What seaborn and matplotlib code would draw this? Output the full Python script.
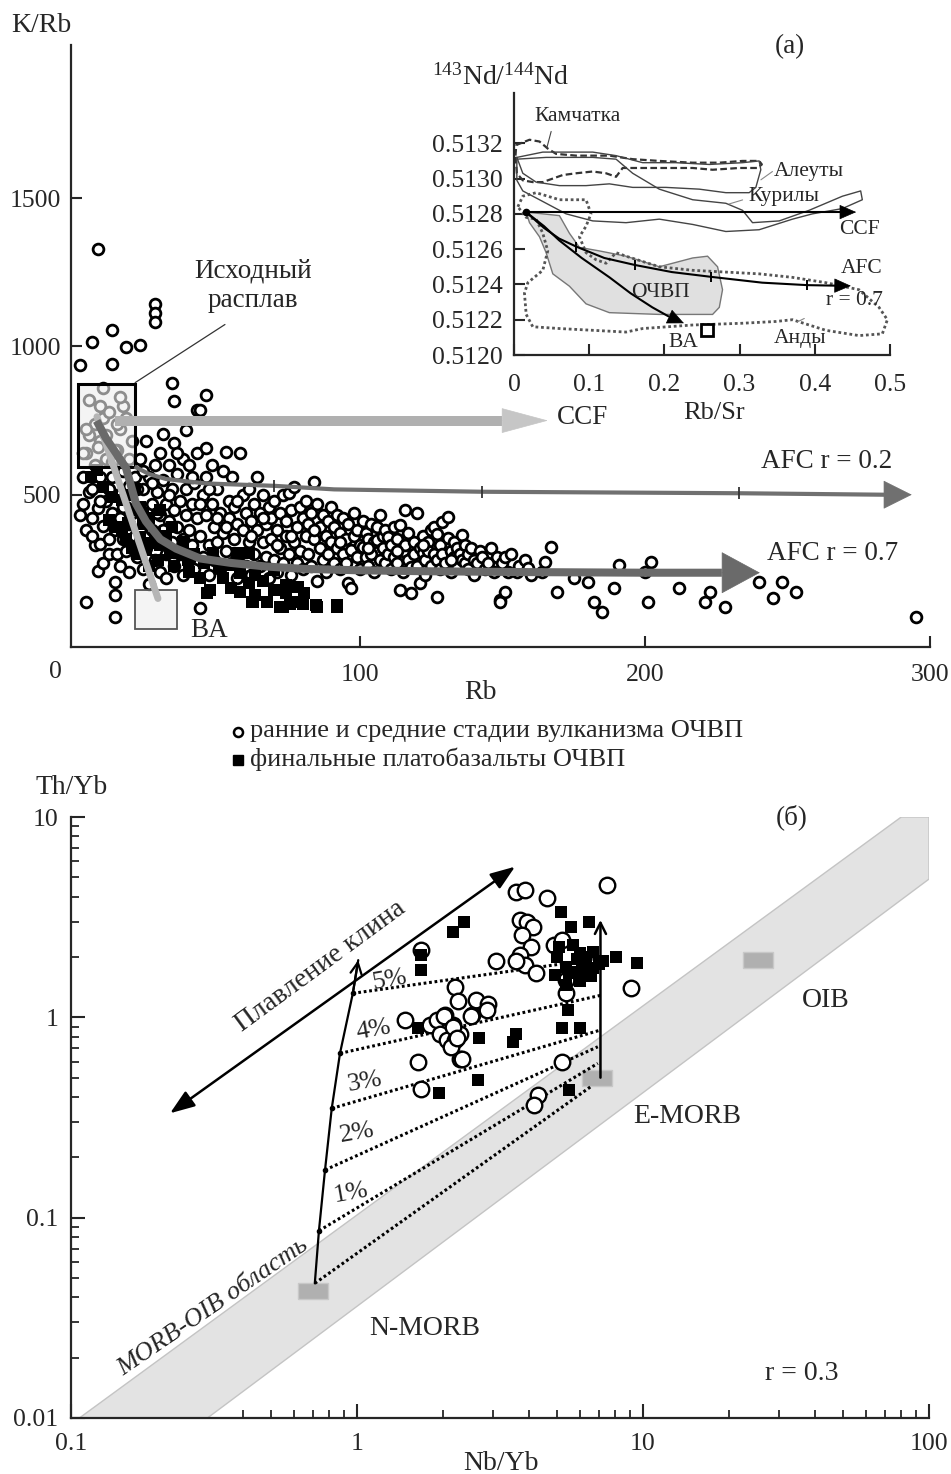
import numpy as np
import pandas as pd
import matplotlib
matplotlib.use("Agg")
import matplotlib.pyplot as plt
import seaborn as sns
from matplotlib.patches import Rectangle
from matplotlib.ticker import NullFormatter, LogLocator

sns.set_style("ticks")
plt.rcParams["font.family"] = ["Liberation Serif", "DejaVu Serif"]
plt.rcParams["mathtext.fontset"] = "custom"
plt.rcParams["mathtext.rm"] = "Liberation Serif"
plt.rcParams["mathtext.it"] = "Liberation Serif:italic"

W, H = 951, 1474

# ---------------- (a) K/Rb vs Rb ----------------
early_pts = [
    (2, 432), (2, 938), (3, 560), (3, 470), (4, 380), (4, 138), (4, 640), (5, 508), (5, 700), (6, 520),
    (6, 1014), (6, 420), (7, 330), (7, 600), (8, 1330), (8, 244), (8, 455), (9, 334), (9, 560), (9, 680),
    (10, 395), (10, 270), (10, 760), (11, 480), (11, 620), (12, 350), (12, 300), (13, 1054), (13, 942),
    (13, 560), (13, 440), (14, 206), (14, 161), (14, 88), (14, 380), (15, 500), (15, 650), (15, 300),
    (16, 420), (16, 720), (16, 260), (17, 350), (17, 580), (17, 800), (18, 460), (18, 999), (18, 310),
    (19, 400), (19, 530), (19, 240), (20, 680), (20, 330), (20, 440),
    (3, 640), (5, 820), (7, 740), (9, 800), (11, 700), (12, 780), (14, 650), (16, 830), (18, 760),
    (19, 620), (4, 720), (10, 860), (15, 740), (8, 660), (13, 610),
    (21, 560), (21, 360), (22, 450), (22, 290), (23, 1006), (23, 620), (23, 380), (24, 520), (24, 250),
    (25, 680), (25, 420), (25, 320), (26, 560), (26, 200), (27, 470), (27, 380), (28, 1142), (28, 1112),
    (28, 1081), (28, 600), (28, 280), (29, 510), (29, 340), (30, 430), (30, 240), (30, 640),
    (31, 704), (31, 550), (31, 380), (32, 470), (32, 300), (32, 220), (33, 600), (33, 410), (34, 878),
    (34, 520), (34, 340), (35, 817), (35, 674), (35, 260), (35, 450), (36, 570), (36, 390), (37, 300),
    (37, 480), (38, 620), (38, 350), (38, 230), (39, 430), (39, 719), (39, 520), (40, 280), (40, 380),
    (40, 600), (41, 470), (41, 330), (42, 540), (42, 250), (43, 787), (43, 420), (43, 640), (44, 787),
    (44, 360), (44, 118), (45, 500), (45, 290), (46, 837), (46, 659), (46, 430), (46, 560), (47, 330),
    (47, 230), (48, 470), (48, 600), (49, 390), (49, 280), (50, 520), (50, 340),
    (51, 440), (51, 250), (52, 580), (52, 370), (53, 644), (53, 310), (54, 480), (54, 420), (55, 270),
    (55, 560), (56, 350), (56, 460), (57, 220), (57, 400), (58, 641), (58, 300), (59, 500), (59, 380),
    (60, 260), (60, 440), (61, 340), (61, 520), (62, 410), (62, 230), (63, 470), (63, 300), (64, 561),
    (64, 380), (65, 260), (65, 440), (66, 340), (66, 500), (67, 400), (67, 290), (68, 460), (68, 220),
    (69, 350), (69, 420), (70, 280), (70, 480), (71, 380), (71, 240), (72, 440), (72, 320), (73, 500),
    (73, 270), (74, 360), (74, 410), (75, 505), (75, 300), (76, 230), (76, 450), (77, 527), (77, 340),
    (78, 390), (78, 270), (79, 460), (79, 310), (80, 250), (80, 420), (81, 360), (81, 480), (82, 300),
    (82, 400), (83, 440), (83, 260), (84, 544), (84, 350), (85, 210), (85, 470), (86, 320), (86, 390),
    (87, 280), (87, 430), (88, 360), (88, 240), (89, 410), (89, 300), (90, 340), (90, 460),
    (91, 270), (91, 390), (92, 430), (92, 320), (93, 250), (93, 370), (94, 300), (94, 420), (95, 350),
    (95, 270), (96, 201), (96, 400), (97, 184), (97, 314), (98, 360), (98, 440), (99, 290), (99, 380),
    (100, 330), (100, 250), (101, 325), (101, 410), (102, 290), (102, 370), (103, 260), (103, 350),
    (104, 400), (104, 300), (105, 340), (105, 240), (106, 347), (106, 390), (107, 280), (107, 430),
    (108, 320), (108, 360), (109, 270), (109, 380), (110, 358), (110, 300), (111, 330), (111, 250),
    (112, 390), (112, 290), (113, 350), (113, 270), (114, 398), (114, 179), (115, 310), (115, 240),
    (116, 448), (116, 330), (117, 280), (117, 370), (118, 257), (118, 168), (119, 300), (119, 340),
    (120, 437), (120, 260), (121, 201), (121, 320), (122, 302), (122, 360), (123, 229), (123, 280),
    (124, 340), (124, 310), (125, 260), (125, 380), (126, 392), (126, 300), (127, 367), (127, 280),
    (127, 156), (128, 330), (128, 250), (129, 409), (129, 300), (130, 270), (131, 426), (131, 353),
    (132, 310), (132, 240), (133, 290), (133, 340), (134, 260), (134, 320), (135, 300), (136, 364),
    (136, 280), (137, 270), (137, 330), (138, 250), (138, 300), (139, 320), (140, 280), (140, 230),
    (141, 270), (142, 310), (143, 290), (144, 250), (145, 270), (146, 320), (147, 240), (148, 290),
    (149, 145), (149, 139), (150, 270), (151, 291), (151, 173), (152, 240), (153, 300), (155, 240),
    (156, 260), (158, 280), (159, 252), (160, 230), (164, 240), (165, 274), (167, 325), (169, 173),
    (175, 218), (180, 207), (182, 139), (185, 106), (189, 184), (191, 263), (200, 240), (201, 139),
    (202, 274), (212, 184), (221, 139), (223, 173), (228, 122), (240, 207), (245, 151), (248, 207),
    (253, 173), (295, 89),
    (6, 360), (9, 480), (12, 520), (17, 460), (22, 520), (24, 580), (27, 540), (29, 440), (33, 500),
    (36, 640), (41, 560), (44, 470), (47, 520), (50, 420), (53, 390), (57, 480), (62, 360), (66, 420),
    (71, 330), (76, 360), (84, 380), (93, 340), (103, 320), (113, 310), (122, 330), (132, 280),
]
final_pts = [
    (5.8, 561), (7.9, 583), (10, 527), (13.2, 493), (16.5, 482), (20.8, 448), (22.9, 460), (12.2, 415),
    (14.4, 392), (16.5, 381), (18.6, 404), (22.9, 358), (27.1, 336), (25, 314), (33.5, 302), (29.2, 280),
    (37.8, 302), (39.9, 280), (48.4, 302), (56.9, 302), (61.2, 302), (45.2, 269), (50.6, 257), (55, 263),
    (69.8, 246), (63.3, 229), (58, 235), (61.2, 201), (74, 196), (78.2, 190), (74, 168), (80.4, 168),
    (54.8, 184), (47.3, 179), (58, 173), (63.3, 162), (62.3, 139), (67.6, 139), (72.9, 122), (78.2, 139),
    (84.7, 128), (92.1, 128), (46.3, 168), (62.7, 138), (67.4, 138), (72, 123), (75.5, 130), (80.2, 130),
    (84.9, 123), (91.9, 123), (18, 350), (20, 320), (24, 400), (26, 420), (28, 370), (30, 330), (32, 360),
    (34, 390), (36, 310), (38, 340), (40, 240), (42, 300), (35, 260), (26, 260), (22, 300), (44, 220),
    (52, 220), (66, 210), (70, 180), (24, 440), (30, 450), (19, 500), (21, 520),
]
source_box = [1.3, 21.2, 593, 873]      # Rb min, Rb max, K/Rb min, K/Rb max
ba_box = [21.2, 35.8, 47, 179]

ccf_rb, ccf_kr, ccf_tip = [14.3, 150], [750, 750], 166
afc02_rb = [21, 26, 32, 46, 70, 91, 143, 233, 284]
afc02_kr = [595, 570, 553, 538, 530, 518, 510, 505, 500]
afc02_tip = 293.6
afc02_tick_rb = [70, 143, 233]
afc02_tick_kr = [530, 510, 505]
afc07_rb = [7.7, 11, 14.5, 18, 21.5, 25, 30, 35.6, 44, 54.8, 67, 80.4, 100, 123, 160, 200, 227]
afc07_kr = [749, 690, 640, 590, 470, 410, 350, 318, 285, 270, 258, 250, 245, 242, 239, 237, 237]
afc07_tip = 240.3
ba_rb, ba_kr = [7.8, 29.2], [763, 150]

# inset: 143Nd/144Nd vs Rb/Sr
kam_x = [0.002, 0.003, 0.0206, 0.0339, 0.0449, 0.056, 0.0826, 0.1268, 0.1578, 0.1932, 0.2376, 0.273,
         0.3039, 0.326, 0.3296, 0.3238, 0.2994, 0.2641, 0.2376, 0.1932, 0.1578, 0.1445, 0.1357, 0.1224,
         0.1047, 0.0826, 0.0648, 0.0516, 0.0383, 0.025, 0.0117, 0.0038, 0.002]
kam_y = [0.51313, 0.51319, 0.51322, 0.51321, 0.51317, 0.51314, 0.51313, 0.51313, 0.51311, 0.51310,
         0.51309, 0.51309, 0.51310, 0.51310, 0.51308, 0.51306, 0.51306, 0.51305, 0.51306, 0.51306,
         0.51306, 0.51306, 0.51301, 0.51303, 0.51304, 0.51303, 0.51302, 0.51300, 0.51298, 0.51298,
         0.51299, 0.51303, 0.51313]
ale_x = [0.0038, 0.0383, 0.1047, 0.1357, 0.1711, 0.2154, 0.2597, 0.3039, 0.326, 0.3282, 0.3216, 0.3127,
         0.2817, 0.2464, 0.2021, 0.1578, 0.1268, 0.0958, 0.0604, 0.0294, 0.0117, 0.0038]
ale_y = [0.51312, 0.51315, 0.51315, 0.51313, 0.51309, 0.51309, 0.51308, 0.51309, 0.51310, 0.51305,
         0.51295, 0.51292, 0.51292, 0.51294, 0.51295, 0.51295, 0.51297, 0.51296, 0.51296, 0.51298,
         0.51303, 0.51312]
kur_x = [0.0038, 0.0427, 0.1047, 0.1357, 0.1578, 0.1932, 0.2376, 0.2817, 0.3039, 0.3172, 0.3526, 0.3924,
         0.4367, 0.461, 0.4632, 0.4367, 0.3969, 0.3703, 0.326, 0.2817, 0.2376, 0.1932, 0.149, 0.1047,
         0.0693, 0.0339, 0.0117, 0.0038, 0.0038]
kur_y = [0.51311, 0.51312, 0.51312, 0.51311, 0.51303, 0.51294, 0.51288, 0.51286, 0.51282, 0.51275,
         0.51276, 0.51282, 0.51290, 0.51293, 0.51288, 0.51283, 0.51280, 0.51277, 0.51271, 0.51270,
         0.51274, 0.51277, 0.51275, 0.51276, 0.51280, 0.51288, 0.51293, 0.51299, 0.51311]
and_x = [0.0051, 0.0117, 0.0294, 0.0604, 0.0958, 0.1024, 0.0958, 0.087, 0.0958, 0.1091, 0.1224, 0.1357,
         0.149, 0.1932, 0.2376, 0.2817, 0.326, 0.3703, 0.4146, 0.4588, 0.4854, 0.4965, 0.4898, 0.4588,
         0.4146, 0.3703, 0.3482, 0.3039, 0.2376, 0.1711, 0.149, 0.1047, 0.0604, 0.025, 0.0162, 0.0139,
         0.0184, 0.0383, 0.0449, 0.0383, 0.0294, 0.0162, 0.0051]
and_y = [0.51284, 0.51290, 0.51292, 0.51288, 0.51288, 0.51280, 0.51273, 0.51267, 0.51258, 0.51254,
         0.51252, 0.51258, 0.51256, 0.51250, 0.51248, 0.51247, 0.51246, 0.51244, 0.51241, 0.51237,
         0.51227, 0.51220, 0.51212, 0.51211, 0.51214, 0.51220, 0.51219, 0.51218, 0.51217, 0.51215,
         0.51213, 0.51214, 0.51215, 0.51216, 0.51223, 0.51235, 0.51241, 0.51248, 0.51259, 0.51269,
         0.51277, 0.51278, 0.51284]
ochvp_x = [0.0162, 0.0604, 0.0737, 0.087, 0.1135, 0.149, 0.1932, 0.2376, 0.2574, 0.2707, 0.2773, 0.273,
           0.2641, 0.1932, 0.1268, 0.0958, 0.0737, 0.0516, 0.0427, 0.0339, 0.0206]
ochvp_y = [0.51281, 0.51279, 0.51269, 0.51261, 0.51259, 0.51256, 0.51250, 0.51255, 0.51256, 0.51250,
           0.51237, 0.51227, 0.51223, 0.51223, 0.51224, 0.51229, 0.51239, 0.51246, 0.51258, 0.51267,
           0.51275]
in_ccf_x, in_ccf_y = [0.016, 0.435], [0.51281, 0.51281]
in_ccf_tip = 0.455
in_afc_x = [0.016, 0.04, 0.06, 0.083, 0.12, 0.161, 0.21, 0.262, 0.33, 0.39, 0.428]
in_afc_y = [0.51281, 0.51272, 0.51266, 0.512614, 0.51255, 0.51251, 0.51247, 0.512443, 0.51241, 0.512396, 0.512393]
in_afc_tip = (0.448, 0.512392)
in_afc_tick_x = [0.083, 0.161, 0.262, 0.39]
in_afc_tick_y = [0.512614, 0.51251, 0.512443, 0.512396]
in_ba_x = [0.016, 0.04, 0.06, 0.09, 0.127, 0.155, 0.184, 0.205]
in_ba_y = [0.51281, 0.51273, 0.51265, 0.51255, 0.51244, 0.51235, 0.51227, 0.51222]
in_ba_tip = (0.226, 0.51218)
in_ba_sample = (0.257, 0.51214)

# ---------------- (б) Th/Yb vs Nb/Yb ----------------
band_nb = [0.107, 80, 100, 100, 0.3]
band_th = [0.01, 10, 10, 4.9, 0.01]
res_names = ["N-MORB", "E-MORB", "OIB"]
res_nb = [0.70, 6.9, 25.3]
res_th = [0.043, 0.50, 1.93]
melt_nb = [0.712, 0.736, 0.773, 0.816, 0.872, 0.967, 1.01]
melt_th = [0.047, 0.086, 0.173, 0.351, 0.661, 1.318, 1.93]
mix_start_nb = [0.712, 0.736, 0.773, 0.816, 0.872, 0.967]
mix_start_th = [0.047, 0.086, 0.173, 0.351, 0.661, 1.318]
mix_end_nb = [6.57, 6.95, 6.95, 7.1, 7.15, 7.15]
mix_end_th = [0.451, 0.589, 0.713, 0.864, 1.29, 1.97]
pct_labels = ["1%", "2%", "3%", "4%", "5%"]
pct_nb = [0.953, 1.0, 1.067, 1.14, 1.30]
pct_th = [0.133, 0.264, 0.477, 0.864, 1.53]
emorb_arrow_nb, emorb_arrow_th = 7.1, [0.5, 3.06]
wedge_nb, wedge_th = [0.222, 3.57], [0.332, 5.65]

b_early = [
    (1.68, 2.17), (1.47, 0.97), (1.80, 0.915), (1.90, 0.97), (2.03, 1.03), (2.17, 0.915), (1.95, 0.83),
    (2.06, 0.77), (2.20, 0.77), (2.29, 0.83), (2.52, 1.03), (2.29, 0.62), (2.14, 0.71), (1.64, 0.60),
    (1.68, 0.44), (2.20, 1.42), (2.26, 1.20), (2.61, 1.22), (2.88, 1.17), (2.50, 1.01), (2.02, 1.01),
    (2.17, 0.90), (2.23, 0.79), (2.33, 0.62), (2.84, 1.09), (7.46, 4.58), (3.61, 4.24), (3.88, 4.32),
    (4.60, 3.93), (3.72, 3.06), (3.94, 3.0), (4.11, 2.83), (3.77, 2.58), (4.05, 2.25), (3.72, 2.05),
    (3.88, 1.82), (4.23, 1.66), (3.61, 1.90), (3.05, 1.90), (4.87, 2.30), (5.23, 2.43), (9.1, 1.40),
    (5.38, 1.32), (5.38, 1.54), (5.23, 0.60), (4.29, 0.41), (4.17, 0.365),
]
b_final = [
    (5.08, 2.25), (5.70, 2.30), (6.03, 2.09), (6.66, 2.13), (7.26, 1.90), (8.02, 2.01), (9.51, 1.86),
    (5.38, 1.79), (6.12, 1.82), (6.66, 1.76), (4.94, 1.63), (5.53, 1.66), (5.86, 1.69), (5.38, 1.45),
    (6.03, 1.51), (6.57, 1.60), (5.46, 1.09), (5.23, 0.88), (6.03, 0.88), (2.68, 0.79), (3.61, 0.83),
    (3.52, 0.755), (2.64, 0.486), (1.93, 0.417), (5.53, 0.434), (5.16, 3.37), (6.47, 3.0), (5.62, 2.83),
    (2.36, 3.0), (2.17, 2.68), (1.68, 2.05), (1.68, 1.72), (1.63, 0.88), (6.3, 2.0), (5.9, 1.95),
    (7.0, 1.85), (6.2, 1.7), (5.0, 2.0),
]

# ---------------- figure ----------------
fig = plt.figure(figsize=(W / 100, H / 100), dpi=100)


def box(l, t, r, b):
    return [l / W, 1 - b / H, (r - l) / W, (b - t) / H]


def head(a, tail, tip, length, width, color, style="-|>", lw=0.5, z=6):
    a.annotate("", xy=tip, xytext=tail,
               arrowprops=dict(arrowstyle=f"{style},head_length={length},head_width={width}",
                               mutation_scale=1, color=color, lw=lw, shrinkA=0, shrinkB=0),
               zorder=z)


ax = fig.add_axes(box(71, 45, 930, 647))
axb = fig.add_axes(box(71, 817, 929, 1418))
ins = fig.add_axes(box(514, 93, 890, 355))
ov = fig.add_axes([0, 0, 1, 1])
ov.set_xlim(0, W)
ov.set_ylim(H, 0)
ov.axis("off")

for a in (ax, axb, ins):
    a.set_facecolor("none")
    a.spines[["top", "right"]].set_visible(False)
    a.spines[["left", "bottom"]].set_linewidth(1.6)

# ---- panel (a)
df_e = pd.DataFrame(early_pts, columns=["Rb", "KRb"])
df_f = pd.DataFrame(final_pts, columns=["Rb", "KRb"])
sns.scatterplot(data=df_e, x="Rb", y="KRb", marker="o", s=60, facecolor="white",
                edgecolor="black", linewidth=2.0, ax=ax, zorder=2)
sns.scatterplot(data=df_f, x="Rb", y="KRb", marker="s", s=64, color="black",
                linewidth=0, ax=ax, zorder=2.5)
ax.set_xlim(-1.3, 300)
ax.set_ylim(-13.5, 2016.5)
ax.add_patch(Rectangle((source_box[0], source_box[2]), source_box[1] - source_box[0],
                       source_box[3] - source_box[2], facecolor=(0.93, 0.93, 0.93, 0.6),
                       edgecolor="black", lw=2.2, zorder=3))
ax.add_patch(Rectangle((ba_box[0], ba_box[2]), ba_box[1] - ba_box[0], ba_box[3] - ba_box[2],
                       facecolor=(0.93, 0.93, 0.93, 0.6), edgecolor="#555555", lw=1.3, zorder=3))

ax.plot(ccf_rb, ccf_kr, color="#b0b0b0", lw=7.2, solid_capstyle="butt", zorder=4)
head(ax, (ccf_rb[-1], ccf_kr[-1]), (ccf_tip, ccf_kr[-1]), 32, 8.6, "#c6c6c6", z=4)
ax.plot(afc02_rb, afc02_kr, color="#707070", lw=3, solid_capstyle="butt", zorder=4)
head(ax, (afc02_rb[-1], afc02_kr[-1]), (afc02_tip, afc02_kr[-1]), 19.4, 9.7, "#707070", z=4)
ax.plot(afc02_tick_rb, afc02_tick_kr, ls="none", marker="|", ms=8, mew=1.3, color="#333333", zorder=4)
ax.plot(ba_rb, ba_kr, color="#b5b5b5", lw=5, solid_capstyle="round", zorder=4)
ax.plot(afc07_rb, afc07_kr, color="#6a6a6a", lw=5.8, solid_capstyle="butt", zorder=4.5)
head(ax, (afc07_rb[-1], afc07_kr[-1]), (afc07_tip, afc07_kr[-1]), 26.6, 14.4, "#6a6a6a", z=4.5)
ax.plot([21.2, 52.7], [878, 1074], color="#333333", lw=0.9, zorder=3)

ax.text(62.6, 1255, "Исходный", ha="center", va="center", fontsize=19.5)
ax.text(62.6, 1154, "расплав", ha="center", va="center", fontsize=19.5)
ax.text(40.5, 42, "BA", ha="left", va="center", fontsize=19.5)
ax.text(169, 759, "CCF", ha="left", va="center", fontsize=19.5)
ax.text(263.7, 611, "AFC r = 0.2", ha="center", va="center", fontsize=19.5)
ax.text(265.7, 302, "AFC r = 0.7", ha="center", va="center", fontsize=19.5)

ax.set_xticks([100, 200, 300])
ax.set_yticks([500, 1000, 1500])
ax.tick_params(direction="in", length=8, width=1.5, labelsize=18.5)
ax.tick_params(axis="x", pad=12)
ax.tick_params(axis="y", pad=7)
ax.set_xlabel("")
ax.set_ylabel("")

# ---- inset
ins.set_xlim(0, 0.5)
ins.set_ylim(0.5120, 0.513485)
ins.fill(ochvp_x, ochvp_y, facecolor="#e0e0e0", edgecolor="#777777", lw=1, zorder=1)
ins.plot(kam_x, kam_y, color="#333333", lw=1.6, ls=(0, (3, 1.5)), zorder=2)
ins.plot(ale_x, ale_y, color="#444444", lw=1.0, zorder=2)
ins.plot(kur_x, kur_y, color="#444444", lw=1.0, zorder=2)
ins.plot(and_x, and_y, color="#555555", lw=2.0, ls=(0, (1, 1)), zorder=2)
ins.plot(in_ccf_x, in_ccf_y, color="black", lw=1.5, zorder=3)
head(ins, (in_ccf_x[-1], in_ccf_y[-1]), (in_ccf_tip, in_ccf_y[-1]), 11, 4.8, "black")
ins.plot(in_afc_x, in_afc_y, color="black", lw=1.5, zorder=3)
head(ins, (in_afc_x[-1], in_afc_y[-1]), in_afc_tip, 11, 4.8, "black")
ins.plot(in_afc_tick_x, in_afc_tick_y, ls="none", marker="|", ms=7, mew=1.4, color="black", zorder=3)
ins.plot(in_ba_x, in_ba_y, color="black", lw=1.5, zorder=3)
head(ins, (in_ba_x[-1], in_ba_y[-1]), in_ba_tip, 11, 5, "black")
ins.plot(in_ccf_x[0], in_ccf_y[0], "o", ms=4.5, color="black", zorder=3)
ins.plot(*in_ba_sample, marker="s", ms=8, mfc="white", mec="black", mew=2, zorder=3)
ins.plot([0.0494, 0.0436], [0.513267, 0.513173], color="#444444", lw=0.8)
ins.plot([0.3437, 0.3283], [0.51304, 0.512993], color="#888888", lw=0.8)
ins.plot([0.304, 0.286], [0.512879, 0.512856], color="#888888", lw=0.8)
ins.plot([0.377, 0.386], [0.512188, 0.512207], color="#888888", lw=0.8)
for txt, x, y in [("Камчатка", 0.0843, 0.513351), ("Алеуты", 0.346, 0.513038), ("Курилы", 0.3114, 0.512896),
                  ("CCF", 0.432, 0.512709), ("AFC", 0.4345, 0.512493), ("r = 0.7", 0.4143, 0.512311),
                  ("ОЧВП", 0.156, 0.512356), ("BA", 0.205, 0.512072), ("Анды", 0.346, 0.512095)]:
    ins.text(x, y, txt, ha="center" if txt == "Камчатка" else "left", va="center", fontsize=15.5, zorder=4)
ins.set_xticks([0, 0.1, 0.2, 0.3, 0.4, 0.5], labels=["0", "0.1", "0.2", "0.3", "0.4", "0.5"])
yt = [0.5120, 0.5122, 0.5124, 0.5126, 0.5128, 0.5130, 0.5132]
ins.set_yticks(yt, labels=[f"{v:.4f}" for v in yt])
ins.tick_params(direction="in", length=8, width=1.5, labelsize=18.5)
ins.tick_params(axis="x", pad=14)
ins.tick_params(axis="y", pad=8)

# ---- panel (б)
axb.set_xscale("log")
axb.set_yscale("log")
axb.fill(band_nb, band_th, facecolor="#e3e3e3", edgecolor="#c4c4c4", lw=1, zorder=1)
for i in range(len(mix_start_nb)):
    axb.plot([mix_start_nb[i], mix_end_nb[i]], [mix_start_th[i], mix_end_th[i]],
             color="black", lw=2.2, ls=(0, (0.9, 0.9)), zorder=3)
axb.plot(melt_nb, melt_th, color="black", lw=1.6, zorder=3)
axb.plot(mix_start_nb[1:], mix_start_th[1:], ls="none", marker="o", ms=3, color="black", zorder=3)
head(axb, (melt_nb[-2], melt_th[-2]), (melt_nb[-1], melt_th[-1]), 8, 4, "black", style="->", lw=1.6)
axb.annotate("", xy=(emorb_arrow_nb, emorb_arrow_th[1]), xytext=(emorb_arrow_nb, emorb_arrow_th[0]),
             arrowprops=dict(arrowstyle="->,head_length=8,head_width=4", mutation_scale=1,
                             color="black", lw=1.8, shrinkA=0, shrinkB=0), zorder=4)
axb.annotate("", xy=(wedge_nb[1], wedge_th[1]), xytext=(wedge_nb[0], wedge_th[0]),
             arrowprops=dict(arrowstyle="<|-|>,head_length=15,head_width=5.5", mutation_scale=1,
                             color="black", lw=1.8, shrinkA=0, shrinkB=0), zorder=4)
sns.scatterplot(x=res_nb, y=res_th, marker=[(-1, -0.55), (1, -0.55), (1, 0.55), (-1, 0.55), (-1, -0.55)],
                s=467, color="#b0b0b0", edgecolor="#c8c8c8", linewidth=1, ax=axb, zorder=2)
df_be = pd.DataFrame(b_early, columns=["NbYb", "ThYb"])
df_bf = pd.DataFrame(b_final, columns=["NbYb", "ThYb"])
sns.scatterplot(data=df_be, x="NbYb", y="ThYb", marker="o", s=125, facecolor="white",
                edgecolor="black", linewidth=1.7, ax=axb, zorder=5)
sns.scatterplot(data=df_bf, x="NbYb", y="ThYb", marker="s", s=72, color="black",
                linewidth=0, ax=axb, zorder=6)
axb.set_xlim(0.1, 100)
axb.set_ylim(0.01, 10)
for lab, x, y in zip(pct_labels, pct_nb, pct_th):
    axb.text(x, y, lab, ha="center", va="center", fontsize=19, rotation=10, zorder=4)
axb.text(0.743, 1.79, "Плавление клина", ha="center", va="center", rotation=36.3,
         rotation_mode="anchor", fontsize=20)
axb.text(0.313, 0.0359, "MORB-OIB область", ha="center", va="center", rotation=34.5,
         rotation_mode="anchor", fontsize=19, style="italic")
axb.text(1.73, 0.028, "N-MORB", ha="center", va="center", fontsize=20)
axb.text(14.3, 0.319, "E-MORB", ha="center", va="center", fontsize=20)
axb.text(43.5, 1.22, "OIB", ha="center", va="center", fontsize=20)
axb.text(36, 0.0167, "r = 0.3", ha="center", va="center", fontsize=20)
axb.set_xticks([0.1, 1, 10, 100], labels=["0.1", "1", "10", "100"])
axb.set_yticks([0.01, 0.1, 1, 10], labels=["0.01", "0.1", "1", "10"])
axb.xaxis.set_minor_locator(LogLocator(base=10, subs=np.arange(2, 10)))
axb.yaxis.set_minor_locator(LogLocator(base=10, subs=np.arange(2, 10)))
axb.xaxis.set_minor_formatter(NullFormatter())
axb.yaxis.set_minor_formatter(NullFormatter())
axb.tick_params(which="major", direction="in", length=10, width=1.5, labelsize=18.5)
axb.tick_params(which="minor", direction="in", length=6, width=1.3)
axb.tick_params(axis="x", which="major", pad=11)
axb.tick_params(axis="y", which="major", pad=9)
axb.set_xlabel("")
axb.set_ylabel("")

# ---- outer labels and legend
ov.text(41, 25, "K/Rb", ha="center", va="center", fontsize=20)
ov.text(790, 47, "(a)", ha="center", va="center", fontsize=19.5)
ov.text(501, 77, r"$^{143}$Nd/$^{144}$Nd", ha="center", va="center", fontsize=20)
ov.text(714, 413, "Rb/Sr", ha="center", va="center", fontsize=19)
ov.text(55, 672, "0", ha="center", va="center", fontsize=18.5)
ov.text(480, 692, "Rb", ha="center", va="center", fontsize=20)
ov.plot(238, 732, "o", ms=6.5, mfc="white", mec="black", mew=1.8)
ov.plot(238, 760, "s", ms=7.5, color="black")
ov.text(250, 731, "ранние и средние стадии вулканизма ОЧВП", ha="left", va="center", fontsize=19)
ov.text(250, 759, "финальные платобазальты ОЧВП", ha="left", va="center", fontsize=19)
ov.text(72, 787, "Th/Yb", ha="center", va="center", fontsize=20)
ov.text(792, 817, "(б)", ha="center", va="center", fontsize=19.5)
ov.text(501, 1463, "Nb/Yb", ha="center", va="center", fontsize=20)

fig.savefig("out.png", dpi=100)
